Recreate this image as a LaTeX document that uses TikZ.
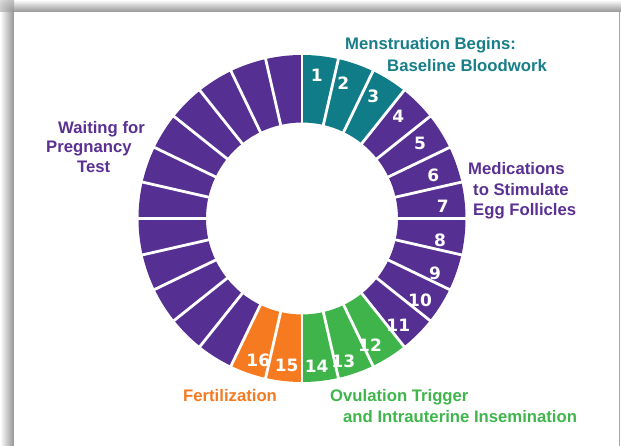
\documentclass[tikz,border=0pt]{standalone}
\usepackage{fontspec}
\setmainfont{Liberation Sans}
\newfontfamily\numfont{DejaVu Sans}
\definecolor{cteal}{HTML}{107C88}
\definecolor{cpurple}{HTML}{552F91}
\definecolor{cgreen}{HTML}{3EB44A}
\definecolor{corange}{HTML}{F57A20}
\definecolor{tteal}{HTML}{187E88}
\definecolor{tpurple}{HTML}{5A3193}
\definecolor{tgreen}{HTML}{40B54C}
\definecolor{torange}{HTML}{F47A22}
\begin{document}
\begin{tikzpicture}[x=1pt,y=1pt,
  lab/.style={inner sep=0pt, anchor=base west, font=\fontsize{16.7}{20}\selectfont\bfseries},
  num/.style={inner sep=0pt, text=white, font=\numfont\fontsize{17}{20}\selectfont\bfseries}]
\useasboundingbox (0,0) rectangle (621,446);
\fill[white] (0,0) rectangle (621,446);
% shadow
\shade[left color=white, right color=black!42] (0,0) rectangle (14,434);
\shade[top color=white, bottom color=black!42] (14,434) rectangle (621,446);
\begin{scope}
  \clip (0,434) rectangle (14,446);
  \shade[inner color=black!42, outer color=white] (14,434) circle (28);
\end{scope}
% card
\fill[white] (14,0) rectangle (619,434);
\draw[black!35, line width=1.2] (619.4,0) -- (619.4,434);
% ring
\begin{scope}[shift={(302,227.5)}]
  \foreach \k/\col in {1/cteal,2/cteal,3/cteal,4/cpurple,5/cpurple,6/cpurple,7/cpurple,
      8/cpurple,9/cpurple,10/cpurple,11/cpurple,12/cgreen,13/cgreen,14/cgreen,
      15/corange,16/corange,17/cpurple,18/cpurple,19/cpurple,20/cpurple,21/cpurple,
      22/cpurple,23/cpurple,24/cpurple,25/cpurple,26/cpurple,27/cpurple,28/cpurple} {
    \pgfmathsetmacro\s{90-(\k-1)*360/28}
    \pgfmathsetmacro\e{90-\k*360/28}
    \fill[\col] (\s:163.5) arc[start angle=\s, end angle=\e, radius=163.5]
      -- (\e:96) arc[start angle=\e, end angle=\s, radius=96] -- cycle;
  }
  \foreach \k in {0,...,27} {
    \pgfmathsetmacro\a{90-\k*360/28}
    \draw[white, line width=2.8] (\a:92) -- (\a:167);
  }
\end{scope}
% numbers
\node[num] (n1) at (316.7,371) {1};
\node[num] (n2) at (343.3,362.7) {2};
\node[num] (n3) at (373.3,349.3) {3};
\node[num] (n4) at (398.3,329.3) {4};
\node[num] (n5) at (420,302.7) {5};
\node[num] (n6) at (433.3,271) {6};
\node[num] (n7) at (442.7,239.3) {7};
\node[num] (n8) at (440,206) {8};
\node[num] (n9) at (435,172.7) {9};
\node[num] (n10) at (420,146) {10};
\node[num] (n11) at (398.3,121) {11};
\node[num] (n12) at (370,101) {12};
\node[num] (n13) at (343.3,84.3) {13};
\node[num] (n14) at (316.7,79.3) {14};
\node[num] (n15) at (286.7,81) {15};
\node[num] (n16) at (258.3,86) {16};
% labels
\node[lab, text=tteal] (m1) at (345,396) {Menstruation Begins:};
\node[lab, text=tteal] (m2) at (387,374.3) {Baseline Bloodwork};
\node[lab, text=tpurple] (w1) at (58,312) {Waiting for};
\node[lab, text=tpurple] (w2) at (46,293) {Pregnancy};
\node[lab, text=tpurple] (w3) at (77,273) {Test};
\node[lab, text=tpurple] (s1) at (468,271) {Medications};
\node[lab, text=tpurple] (s2) at (473,250) {to Stimulate};
\node[lab, text=tpurple] (s3) at (473,230) {Egg Follicles};
\node[lab, text=torange] (f1) at (183,44) {Fertilization};
\node[lab, text=tgreen] (o1) at (330,44) {Ovulation Trigger};
\node[lab, text=tgreen] (o2) at (343,23) {and Intrauterine Insemination};
\end{tikzpicture}
\end{document}
